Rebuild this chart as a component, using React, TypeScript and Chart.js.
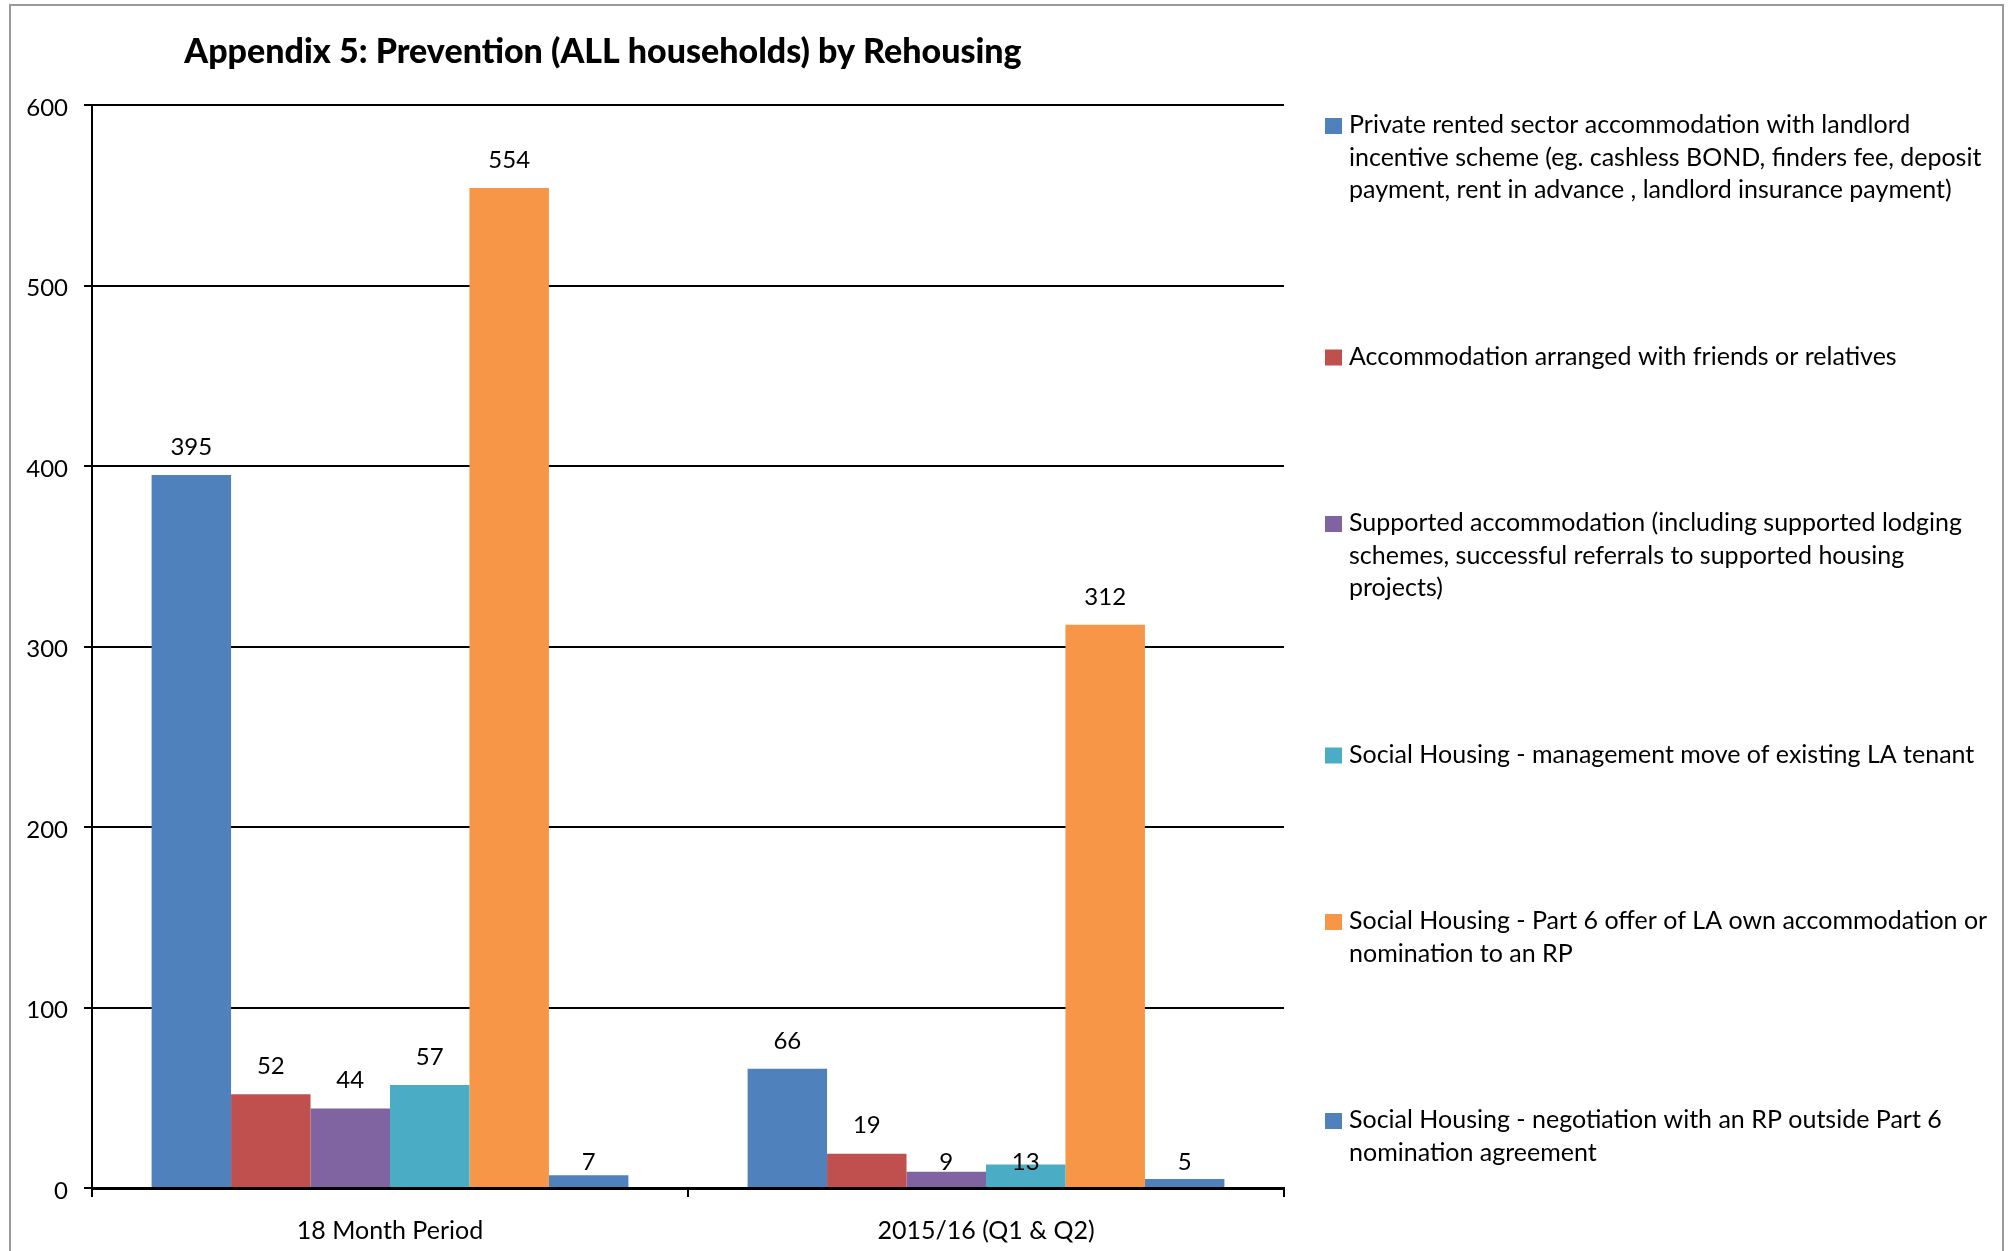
import { useEffect, useRef } from "react";
import { Chart, registerables } from "chart.js";

Chart.register(...registerables);

// ---- data ----
const TITLE = "Appendix 5: Prevention (ALL households) by Rehousing";
const categories = ["18 Month Period", "2015/16 (Q1 & Q2)"];

const privateRented = [395, 66];
const friendsRelatives = [52, 19];
const supportedAccommodation = [44, 9];
const managementMove = [57, 13];
const part6Offer = [554, 312];
const rpNegotiation = [7, 5];

const yMin = 0;
const yMax = 600;
const yStep = 100;

// legend text, wrapped the way it is laid out beside the chart
const privateRentedLabel = [
  "Private rented sector accommodation with landlord",
  "incentive scheme (eg. cashless BOND, finders fee, deposit",
  "payment, rent in advance , landlord insurance payment)",
];
const friendsRelativesLabel = ["Accommodation arranged with friends or relatives"];
const supportedLabel = [
  "Supported accommodation (including supported lodging",
  "schemes, successful referrals to supported housing",
  "projects)",
];
const managementMoveLabel = ["Social Housing - management move of existing LA tenant"];
const part6Label = [
  "Social Housing - Part 6 offer of LA own accommodation or",
  "nomination to an RP",
];
const rpNegotiationLabel = [
  "Social Housing - negotiation with an RP outside Part 6",
  "nomination agreement",
];

const COLORS = ["#4F81BD", "#C0504D", "#8064A2", "#4BACC6", "#F79646", "#4F81BD"];

const FONT = "Lato, 'Liberation Sans', sans-serif";
const TEXT_SIZE = 25;
const NUMBER_SIZE = 24;

const seriesValues = [
  privateRented,
  friendsRelatives,
  supportedAccommodation,
  managementMove,
  part6Offer,
  rpNegotiation,
];
const seriesLabels = [
  privateRentedLabel,
  friendsRelativesLabel,
  supportedLabel,
  managementMoveLabel,
  part6Label,
  rpNegotiationLabel,
];

// white page with the grey frame around the chart object
const framePlugin = {
  id: "frame",
  beforeDraw(chart: any) {
    const { ctx, width, height } = chart;
    ctx.save();
    ctx.fillStyle = "#ffffff";
    ctx.fillRect(0, 0, width, height);
    ctx.strokeStyle = "#9a9a9a";
    ctx.lineWidth = 2;
    ctx.strokeRect(10, 5, width - 15, height + 20);
    ctx.restore();
  },
};

const headingPlugin = {
  id: "heading",
  afterDraw(chart: any) {
    const { ctx } = chart;
    ctx.save();
    ctx.fillStyle = "#000000";
    ctx.font = `900 34px ${FONT}`;
    ctx.textAlign = "center";
    ctx.textBaseline = "middle";
    ctx.fillText(TITLE, 603, 52);
    ctx.restore();
  },
};

// value labels above each bar; very short bars get their label parked just above the axis
const valueLabelPlugin = {
  id: "valueLabels",
  afterDatasetsDraw(chart: any) {
    const { ctx } = chart;
    const base = chart.scales.y.getPixelForValue(0);
    ctx.save();
    ctx.fillStyle = "#000000";
    ctx.font = `${NUMBER_SIZE}px ${FONT}`;
    ctx.textAlign = "center";
    ctx.textBaseline = "middle";
    chart.data.datasets.forEach((ds: any, di: number) => {
      const meta = chart.getDatasetMeta(di);
      meta.data.forEach((bar: any, i: number) => {
        const v = ds.data[i] as number;
        const y = v < 15 ? base - 26 : bar.y - 28;
        ctx.fillText(String(v), bar.x, y);
      });
    });
    ctx.restore();
  },
};

// legend to the right with wrapped entries and equal gaps between them
const sideLegendPlugin = {
  id: "sideLegend",
  afterDraw(chart: any) {
    const { ctx, chartArea } = chart;
    const x0 = chartArea.right + 41;
    const lineH = 32.5;
    const gap = 134;
    let y = 125;
    ctx.save();
    ctx.font = `${TEXT_SIZE}px ${FONT}`;
    ctx.textAlign = "left";
    ctx.textBaseline = "middle";
    seriesLabels.forEach((lines, i) => {
      ctx.fillStyle = COLORS[i];
      ctx.fillRect(x0, y - 7, 17, 16);
      ctx.fillStyle = "#000000";
      lines.forEach((line, li) => {
        ctx.fillText(line, x0 + 24, y + li * lineH);
      });
      y += lines.length * lineH + gap;
    });
    ctx.restore();
  },
};

export default function App() {
  const canvasRef = useRef<HTMLCanvasElement | null>(null);

  useEffect(() => {
    const canvas = canvasRef.current;
    if (!canvas) return;
    const chart = new Chart(canvas, {
      type: "bar",
      data: {
        labels: categories,
        datasets: seriesValues.map((vals, i) => ({
          label: seriesLabels[i].join(" "),
          data: vals,
          backgroundColor: COLORS[i],
          borderWidth: 0,
          barPercentage: 1.0,
          categoryPercentage: 0.8,
        })),
      },
      options: {
        responsive: false,
        animation: false,
        devicePixelRatio: 1,
        layout: { padding: { left: 0, right: 724, top: 105, bottom: 0 } },
        plugins: {
          legend: { display: false },
          title: { display: false },
          tooltip: { enabled: false },
        },
        scales: {
          x: {
            afterFit(scale: any) {
              scale.height = 63;
            },
            grid: {
              display: true,
              offset: true,
              drawOnChartArea: false,
              drawTicks: true,
              tickLength: 9,
              color: "#000000",
              lineWidth: 2,
            },
            border: { display: true, color: "#000000", width: 3 },
            ticks: {
              color: "#000000",
              font: { family: FONT, size: TEXT_SIZE },
              padding: 19,
            },
          },
          y: {
            min: yMin,
            max: yMax,
            afterFit(scale: any) {
              scale.width = 92;
            },
            grid: {
              color: "#000000",
              lineWidth: 2,
              drawTicks: true,
              tickLength: 8,
            },
            border: { display: true, color: "#000000", width: 2 },
            ticks: {
              stepSize: yStep,
              color: "#000000",
              font: { family: FONT, size: NUMBER_SIZE },
              padding: 16,
              labelOffset: 3,
            },
          },
        },
      },
      plugins: [framePlugin, headingPlugin, valueLabelPlugin, sideLegendPlugin],
    });
    return () => chart.destroy();
  }, []);

  return (
    <div style={{ position: "absolute", left: 0, top: 0, width: 2008, height: 1251, overflow: "hidden" }}>
      <canvas ref={canvasRef} width={2008} height={1251} style={{ display: "block" }} />
    </div>
  );
}
